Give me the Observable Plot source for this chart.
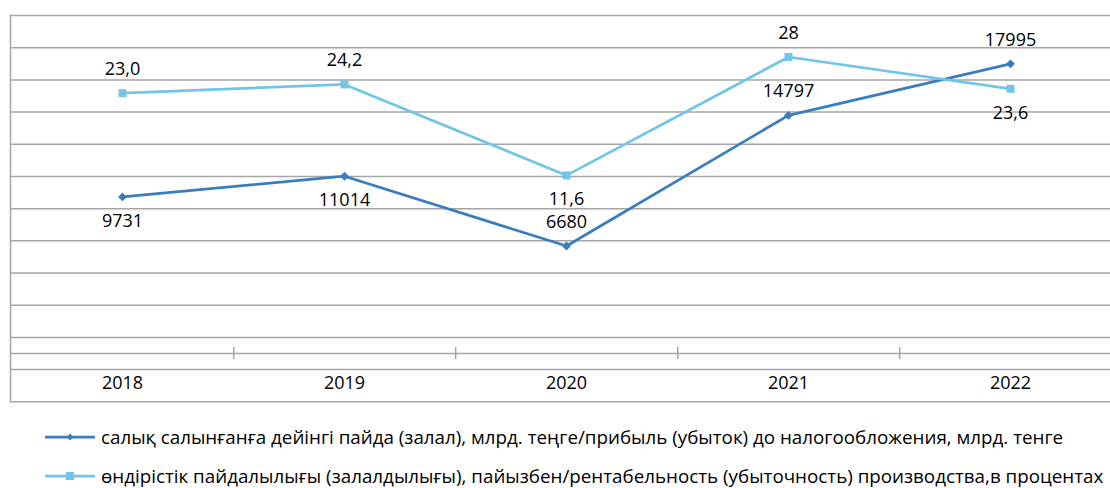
<!DOCTYPE html>
<html><head><meta charset="utf-8">
<script src="https://cdn.jsdelivr.net/npm/d3@7"></script>
<script src="https://cdn.jsdelivr.net/npm/@observablehq/plot@0.6"></script>
<style>
html,body{margin:0;padding:0;background:#fff;}
body{width:1110px;height:488px;overflow:hidden;font-family:"Open Sans",sans-serif;}
#chart svg{display:block;}
#legend{position:relative;height:78px;width:1110px;}
.row{position:absolute;left:45px;display:flex;align-items:center;height:30px;font-size:18.8px;color:#000;white-space:nowrap;}
.row svg{display:block;margin-right:4px;}
</style></head><body><div id="chart"></div><div id="legend"></div>
<script>
// ---- data ----
const years = ["2018", "2019", "2020", "2021", "2022"];
const profit = [9731, 11014, 6680, 14797, 17995];               // млрд. тенге (primary axis)
const profitability = [23.0, 24.2, 11.6, 28, 23.6];             // % (secondary axis)
const profitabilityLabels = ["23,0", "24,2", "11,6", "28", "23,6"];
const seriesNames = [
  "салық салынғанға дейінгі пайда (залал), млрд. теңге/прибыль (убыток) до налогообложения, млрд. тенге",
  "өндірістік пайдалылығы (залалдылығы), пайызбен/рентабельность (убыточность) производства,в процентах"
];
const profitLabelSide = [1, 1, -1, -1, -1];        // 1 = below, -1 = above
const profitabilityLabelSide = [-1, -1, 1, -1, 1];
const gridValues = d3.range(-3000, 21001, 2000);
const secondaryDomain = [0, 30];
const secondaryInPrimary = [5863, 19318];

// ---- styles ----
const dark = "#3a7dbf", light = "#72c5e9", grid = "#a6a6a6";
const W = 1110, H = 410;
const xRange = [9.5, 1121.5];
const bw = (xRange[1] - xRange[0]) / years.length;

const toPrimary = d3.scaleLinear(secondaryDomain, secondaryInPrimary);
const data = years.map((year, i) => ({
  year,
  profit: profit[i],
  rent: toPrimary(profitability[i]),
  profitLabel: String(profit[i]),
  rentLabel: profitabilityLabels[i],
  pSide: profitLabelSide[i],
  rSide: profitabilityLabelSide[i]
}));

const chart = Plot.plot({
  width: W,
  height: H,
  marginTop: 15,
  marginBottom: 8.7,
  marginLeft: 10,
  marginRight: 0,
  style: {fontFamily: "'Open Sans', sans-serif", fontSize: "18px", color: "#000", background: "#fff"},
  x: {type: "band", domain: years, range: xRange, padding: 0, label: null},
  y: {domain: [-3000, 21000], axis: null, label: null},
  marks: [
    Plot.ruleY(gridValues, {stroke: grid, strokeWidth: 1.5}),
    Plot.ruleY([0], {stroke: grid, strokeWidth: 1.5}),
    Plot.frame({anchor: "left", stroke: grid, strokeWidth: 1.5}),
    Plot.ruleX(years.slice(0, -1), {y1: 0, y2: 0, insetTop: -6, insetBottom: -6, dx: bw / 2, stroke: grid, strokeWidth: 1.5}),
    Plot.axisX({anchor: "bottom", tickSize: 0, tickPadding: 0, lineAnchor: "middle", dy: -19, fill: "#000", fontSize: 18, label: null}),
    Plot.line(data, {x: "year", y: "profit", stroke: dark, strokeWidth: 2.75}),
    Plot.dot(data, {x: "year", y: "profit", symbol: "diamond2", r: 4, fill: dark, stroke: "none"}),
    Plot.line(data, {x: "year", y: "rent", stroke: light, strokeWidth: 2.75}),
    Plot.dot(data, {x: "year", y: "rent", symbol: "square", r: 4.5, fill: light, stroke: "none"}),
    Plot.text(data.filter(d => d.pSide > 0), {x: "year", y: "profit", text: "profitLabel", dy: 24, fill: "#000", fontSize: 18}),
    Plot.text(data.filter(d => d.pSide < 0), {x: "year", y: "profit", text: "profitLabel", dy: -24, fill: "#000", fontSize: 18}),
    Plot.text(data.filter(d => d.rSide > 0), {x: "year", y: "rent", text: "rentLabel", dy: 24, fill: "#000", fontSize: 18}),
    Plot.text(data.filter(d => d.rSide < 0), {x: "year", y: "rent", text: "rentLabel", dy: -24, fill: "#000", fontSize: 18})
  ]
});
document.getElementById("chart").appendChild(chart);

// ---- legend ----
const legend = document.getElementById("legend");
const legendItems = [
  {name: seriesNames[0], color: dark, marker: "diamond", top: 12},
  {name: seriesNames[1], color: light, marker: "square", top: 51}
];
legendItems.forEach(item => {
  const row = document.createElement("div");
  row.className = "row";
  row.style.top = item.top + "px";
  const sw = d3.create("svg").attr("width", 52).attr("height", 14);
  sw.append("line").attr("x1", 0).attr("x2", 50).attr("y1", 7).attr("y2", 7)
    .attr("stroke", item.color).attr("stroke-width", 2.75);
  if (item.marker === "diamond") {
    sw.append("path").attr("d", "M25,3.5L28.5,7L25,10.5L21.5,7Z").attr("fill", item.color);
  } else {
    sw.append("rect").attr("x", 21).attr("y", 3).attr("width", 8).attr("height", 8).attr("fill", item.color);
  }
  row.appendChild(sw.node());
  const span = document.createElement("span");
  span.textContent = item.name;
  row.appendChild(span);
  legend.appendChild(row);
});
</script>
</body></html>
